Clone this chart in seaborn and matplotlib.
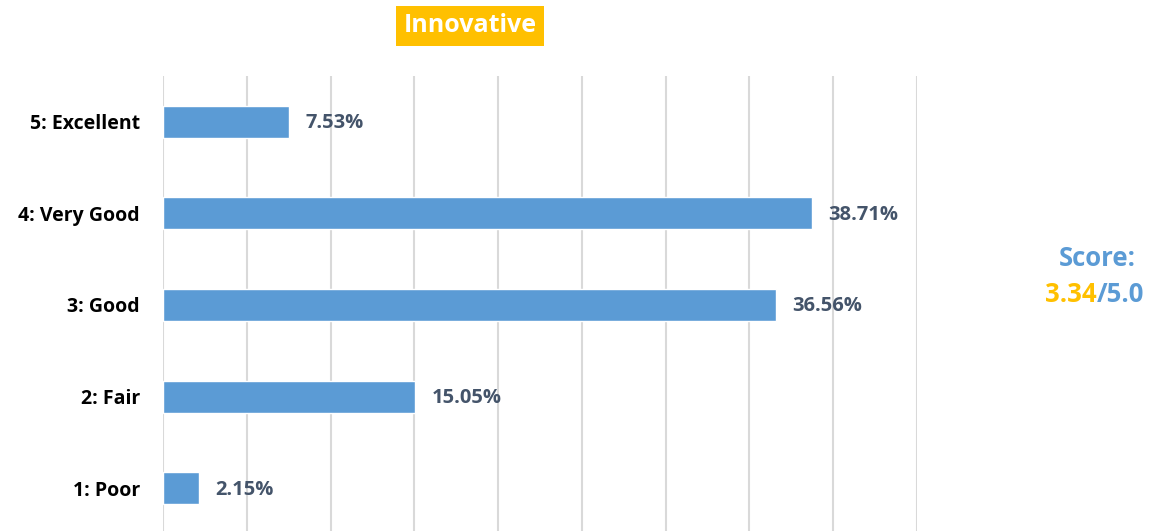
"""
Innovative rating distribution - horizontal bars
"""
import pandas as pd
import seaborn as sns
import matplotlib.pyplot as plt

categories = ['5: Excellent', '4: Very Good', '3: Good', '2: Fair', '1: Poor']
percents = [7.53, 38.71, 36.56, 15.05, 2.15]
score = '3.34'
score_max = '5.0'

data = pd.DataFrame({'category': categories, 'percent': percents})

sns.set_theme(style='white')
plt.rcParams['font.family'] = ['Open Sans', 'DejaVu Sans']

fig = plt.figure(figsize=(11.56, 5.31), dpi=100)
ax = fig.add_axes([163 / 1156, -3 / 531, (917 - 163) / 1156, (531 + 3 - 76) / 531])

sns.barplot(data=data, x='percent', y='category', color='#5B9BD5', saturation=1,
            width=0.35, ax=ax)

ax.set_xlim(0, 45)
ax.set_xticks(range(0, 46, 5))
ax.set_xticklabels([])
ax.grid(axis='x', color='#D9D9D9', linewidth=1.5)
ax.set_axisbelow(True)
for s in ax.spines.values():
    s.set_visible(False)
ax.set_xlabel('')
ax.set_ylabel('')
ax.tick_params(axis='y', length=0, pad=16.5)
for lbl in ax.get_yticklabels():
    lbl.set_fontsize(14)
    lbl.set_fontweight('bold')
    lbl.set_color('black')

for i, v in enumerate(percents):
    ax.annotate(f'{v:.2f}%', (v, i), xytext=(12, -1), textcoords='offset points',
                va='center', ha='left', fontsize=14.5, fontweight='bold', color='#44546A')

fig.text(470 / 1156, 1 - 26 / 531, 'Innovative', ha='center', va='center',
         fontsize=18, fontweight='bold', color='white',
         bbox=dict(boxstyle='square,pad=0.3', facecolor='#FFC000', edgecolor='none'))

fig.text(1097 / 1156, 1 - 258 / 531, 'Score:', ha='center', va='center',
         fontsize=18.5, fontweight='bold', color='#5B9BD5')
fig.text(1097 / 1156, 1 - 295 / 531, score, ha='right', va='center',
         fontsize=18.5, fontweight='bold', color='#FFC000')
fig.text(1097 / 1156, 1 - 295 / 531, '/' + score_max, ha='left', va='center',
         fontsize=18.5, fontweight='bold', color='#5B9BD5')

fig.savefig('out.png', dpi=100)
